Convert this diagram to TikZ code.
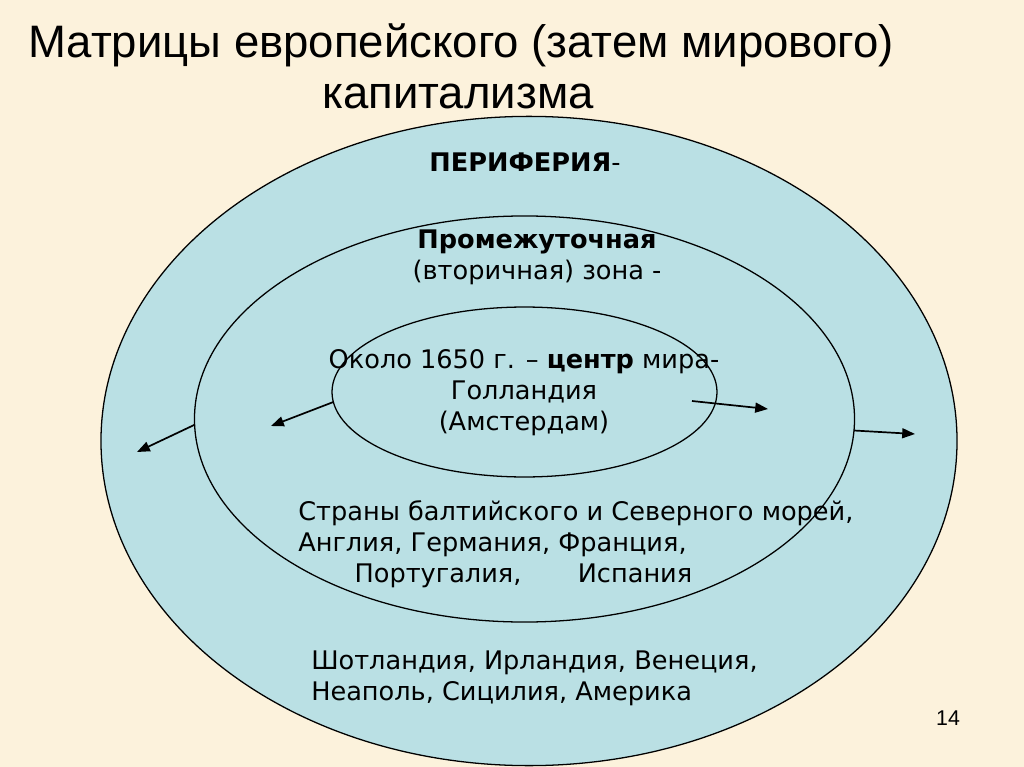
\documentclass[tikz,border=0pt]{standalone}
\usepackage{fontspec}
\usepackage{xcolor}
\usepackage{tikz}
\usetikzlibrary{shapes,shapes.geometric,arrows.meta,positioning,calc}

\newfontfamily\titlefont{Liberation Sans}
\newfontfamily\bodyfont{DejaVu Sans}

\definecolor{parchment}{RGB}{252,242,220}
\definecolor{zonefill}{RGB}{186,224,228}

\begin{document}
\begin{tikzpicture}[
    x=0.703125pt, y=-0.703125pt,
    zone/.style={ellipse, draw, line width=0.9pt, fill=zonefill,
                 inner sep=0pt, outer sep=0pt},
    txt/.style={inner sep=0pt, font=\bodyfont\fontsize{18}{21.8}\selectfont},
    ttl/.style={inner sep=0pt, anchor=base west,
                font=\titlefont\fontsize{32}{38}\selectfont},
    arr/.style={-{Triangle[length=9pt,width=7pt]}, line width=1.2pt},
  ]

  % ===== Background =====
  \fill[parchment] (0,0) rectangle (1024,767);
  \useasboundingbox (0,0) rectangle (1024,767);

  % ===== Title =====
  \node[ttl] (t1) at (28, 58) {Матрицы европейского (затем мирового)};
  \node[ttl] (t2) at (322, 109) {капитализма};

  % ===== Zones =====
  \node[zone, minimum width=601.9pt, minimum height=456.5pt] (outer) at (529, 441) {};
  \node[zone, minimum width=464.1pt, minimum height=285.5pt] (mid) at (524.5, 419) {};
  \node[zone, minimum width=270.7pt, minimum height=119.5pt] (core) at (524.5, 392) {};

  % ===== Labels =====
  \node[txt, font=\bodyfont\bfseries\fontsize{18}{21.8}\selectfont] (peri) at (525, 162)
    {ПЕРИФЕРИЯ\textmd{-}};
  \node[txt, align=center] (semi) at (537, 257)
    {\textbf{Промежуточная}\\(вторичная) зона -};
  \node[txt, align=center] (centre) at (524, 393)
    {Около 1650 г. – \textbf{центр} мира-\\Голландия\\(Амстердам)};
  \node[txt, align=left, anchor=west] (semilist) at (298, 544)
    {Страны балтийского и Северного морей,\\Англия, Германия, Франция,\\
     \hspace*{2.2em}Португалия,\hspace{2.2em}Испания};
  \node[txt, align=left, anchor=west] (perilist) at (311, 678)
    {Шотландия, Ирландия, Венеция,\\Неаполь, Сицилия, Америка};

  % ===== Arrows =====
  \coordinate (lo) at (137, 452);
  \coordinate (li) at (271, 426);
  \coordinate (ri0) at (692, 401);
  \coordinate (ri) at (768, 409);
  \coordinate (ro) at (915, 434);

  \draw[arr] (mid.181.4) -- (lo);
  \draw[arr] (core.183) -- (li);
  \draw[arr] (ri0) -- (ri);
  \draw[arr] (mid.358.8) -- (ro);

  % page number
  \node[inner sep=0pt, font=\titlefont\fontsize{15}{17}\selectfont] (pg) at (948, 718) {14};

\end{tikzpicture}
\end{document}
